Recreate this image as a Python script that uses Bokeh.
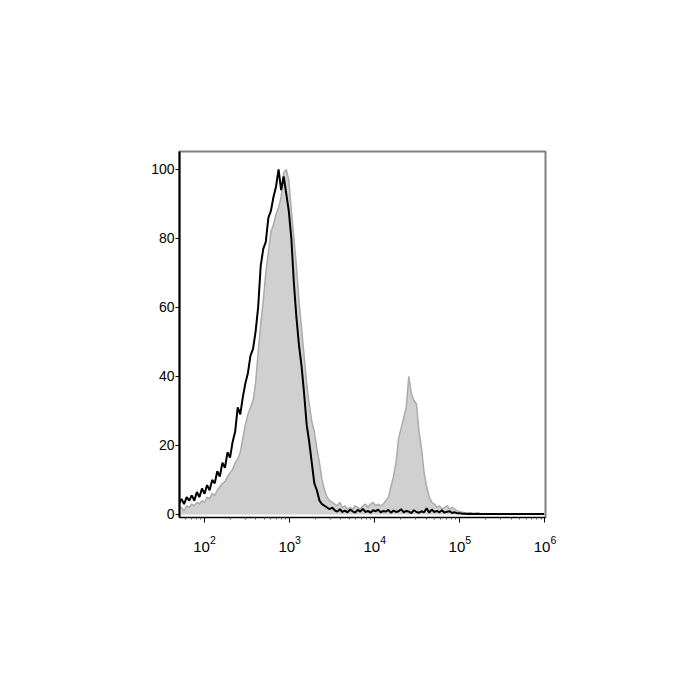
import numpy as np
from bokeh.plotting import figure
from bokeh.models import FixedTicker, LogTickFormatter, Range1d
from bokeh.embed import file_html
from bokeh.resources import INLINE

# ---- data ----
# bin positions: log10 of fluorescence, step 0.03 starting at 1.70
bin_start = 1.70
bin_step = 0.03

black_counts = [
    3, 4.5, 3, 5, 4, 5.5, 4, 6.5, 5, 7.5,
    6, 8.5, 7, 10, 9, 12.5, 11, 15, 13.5, 18,
    16.5, 21, 24, 31, 29, 34, 38, 41, 46, 48,
    53, 60, 72, 77, 79, 86, 88, 92, 95, 100,
    94, 98, 93, 88, 80, 67, 57, 49, 43, 35,
    26, 21, 15, 9, 7, 4, 3, 2.5, 2, 1.5,
    2,
    1.2, 0.8, 1.5, 0.7, 1.1, 0.6, 1.4, 0.9, 0.5, 1.3,
    0.8, 1.6, 0.7, 1.0, 0.5, 1.2, 0.9, 1.4, 0.6, 1.0,
    0.8, 1.3, 0.5, 1.1, 0.7, 0.9, 1.5, 0.6, 1.0, 0.8,
    0.4, 1.2, 0.7, 0.5, 0.9, 0.6, 1.8, 0.5, 1.4, 0.7,
    1.0, 0.6, 1.2, 0.5, 0.8, 0.9, 0.4, 0.6, 0.3,
    0.3, 0.2, 0.2, 0.1, 0.2, 0.1, 0.1, 0.2, 0.1, 0.1,
    0.1, 0.1, 0.1, 0.1, 0.1, 0.1, 0.1, 0.1, 0.1, 0.1,
    0.1, 0.1, 0.1, 0.1, 0.1, 0.1, 0.1, 0.1, 0.1, 0.1,
    0.1, 0.1, 0.1, 0.1,
]

gray_counts = [
    1.5, 2, 1, 2.5, 2, 3, 2.5, 3.5, 3, 4,
    3.5, 5, 4.5, 6, 5.5, 7, 8, 9, 9.5, 11,
    12, 13, 15, 16, 18, 22, 26, 29, 31, 33,
    38, 47, 55, 62, 70, 76, 82, 84, 87, 89,
    92, 99, 100, 97, 88, 80, 72, 62, 54, 46,
    38, 32, 27, 24, 19, 15, 10, 7, 5, 4,
    3.5,
    3, 2.5, 3.5, 2, 2.5, 1.5, 2, 1.5, 2.5, 2,
    1.5, 2.5, 3, 2, 3, 3.5, 2.5, 3, 2.5, 3,
    4, 5, 8, 11, 15, 22, 25, 28, 31, 40,
    35, 33, 32, 24, 19, 12, 8, 5, 3.5, 3,
    2, 2.5, 1.5, 2, 2.5, 1.5, 2, 1.5, 1,
    0.8, 0.6, 0.5, 0.4, 0.4, 0.3, 0.3, 0.3, 0.2, 0.2,
    0.2, 0.2, 0.2, 0.2, 0.2, 0.2, 0.2, 0.2, 0.2, 0.2,
    0.2, 0.2, 0.2, 0.2, 0.2, 0.2, 0.2, 0.2, 0.2, 0.2,
    0.2, 0.2, 0.2, 0.2,
]

y_ticks = [0, 20, 40, 60, 80, 100]
x_decades = [2, 3, 4, 5, 6]

n = min(len(black_counts), len(gray_counts))
x = 10 ** (bin_start + bin_step * np.arange(n))
black = np.array(black_counts[:n])
gray = np.array(gray_counts[:n])

FONT = "Liberation Sans"

p = figure(width=692, height=692, x_axis_type="log",
           x_range=Range1d(10 ** 1.706, 10 ** 6.006),
           y_range=Range1d(-0.9, 105.2),
           output_backend="svg", toolbar_location=None,
           min_border_left=179, min_border_top=151,
           min_border_right=147, min_border_bottom=175)

p.background_fill_color = "white"
p.border_fill_color = "white"
p.outline_line_color = "#808080"
p.outline_line_width = 2
p.xgrid.visible = False
p.ygrid.visible = False

# gray filled histogram
p.varea(x=x, y1=0, y2=gray, fill_color="#d0d0d0")
p.line(x, gray, line_color="#ababab", line_width=1.5)
# black outline histogram
p.line(x, black, line_color="black", line_width=2)

# y axis
p.yaxis.ticker = FixedTicker(ticks=y_ticks, minor_ticks=[])
p.yaxis.axis_line_color = "black"
p.yaxis.axis_line_width = 2
p.yaxis.major_tick_out = 4
p.yaxis.major_tick_in = 0
p.yaxis.minor_tick_out = 0
p.yaxis.major_label_standoff = 1
p.yaxis.major_label_text_font = FONT
p.yaxis.major_label_text_font_size = "14px"
p.yaxis.major_label_text_color = "black"

# x axis
minor = [m * 10 ** d for d in range(1, 6) for m in range(2, 10)]
p.xaxis.ticker = FixedTicker(ticks=[10 ** d for d in x_decades], minor_ticks=minor)
p.xaxis.formatter = LogTickFormatter()
p.xaxis.axis_line_color = "black"
p.xaxis.axis_line_width = 1
p.xaxis.major_tick_out = 5
p.xaxis.major_tick_in = 0
p.xaxis.minor_tick_out = 2
p.xaxis.minor_tick_in = 0
p.xaxis.major_tick_line_color = "black"
p.xaxis.minor_tick_line_color = "#555555"
p.xaxis.major_label_standoff = 13
p.xaxis.major_label_text_font = FONT
p.xaxis.major_label_text_font_size = "15px"
p.xaxis.major_label_text_color = "black"

open("out.html", "w").write(file_html(p, INLINE))
